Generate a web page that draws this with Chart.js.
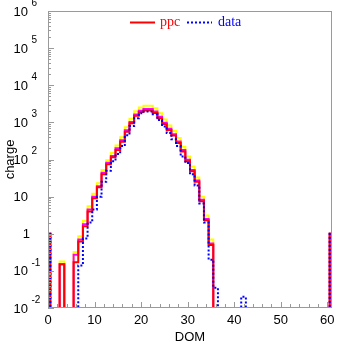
<!DOCTYPE html>
<html>
<head>
<meta charset="utf-8">
<script src="https://cdn.jsdelivr.net/npm/chart.js@4.4.0/dist/chart.umd.min.js"></script>
<style>
  body { margin: 0; background: #fff; }
  canvas { display: block; }
</style>
</head>
<body>
<canvas id="grafico" width="337" height="344"></canvas>
<script>
// valores por DOM (bin 0 .. 61)
const ppc = [1, 0, 0, 0.15, 0, 0, 0.17, 0.62, 1.6, 4, 9, 18, 40, 75, 115, 180, 300, 560, 950, 1500,
  1900, 2100, 2100, 1800, 1300, 900, 620, 440, 280, 165, 90, 48, 25, 7.5, 2.3, 0.5,
  0, 0, 0, 0, 0, 0, 0, 0, 0, 0, 0, 0, 0, 0, 0, 0, 0, 0, 0, 0, 0, 0, 0, 0, 0, 1];
const dados = [1, 0, 0, 0, 0, 0, 0, 0.14, 0.75, 2.0, 4.5, 10, 25, 50, 90, 140, 230, 450, 800, 1300,
  1750, 1950, 1950, 1650, 1150, 780, 520, 350, 230, 120, 80, 40, 20, 6.5, 2, 0.2,
  0.035, 0, 0, 0, 0, 0, 0.02, 0, 0, 0, 0, 0, 0, 0, 0, 0, 0, 0, 0, 0, 0, 0, 0, 0, 0, 1];
const faixaAmarela = [1, 0, 0, 0.18, 0, 0, 0.32, 0.85, 2.2, 5.5, 12, 23, 52, 96, 150, 240, 400, 740, 1250, 2000,
  2500, 2800, 2800, 2400, 1750, 1200, 830, 590, 380, 220, 120, 65, 33, 10, 3.1, 0.7,
  0, 0, 0, 0, 0, 0, 0, 0, 0, 0, 0, 0, 0, 0, 0, 0, 0, 0, 0, 0, 0, 0, 0, 0, 0, 1];
const faixaMagenta = [1, 0, 0, 0.15, 0, 0, 0.27, 0.7, 1.8, 4.5, 10, 19, 44, 82, 125, 200, 330, 610, 1030, 1630,
  2060, 2280, 2280, 1950, 1410, 980, 670, 480, 305, 180, 98, 52, 27, 8.2, 2.5, 0.55,
  0, 0, 0, 0, 0, 0, 0, 0, 0, 0, 0, 0, 0, 0, 0, 0, 0, 0, 0, 0, 0, 0, 0, 0, 0, 1];

const ticksX = [0, 10, 20, 30, 40, 50, 60];
const decadasY = [-2, -1, 0, 1, 2, 3, 4, 5, 6];

// bins vazios ficam abaixo do eixo (log nao aceita zero)
const PISO = 1e-4;

function degraus(valores) {
  const pts = valores.map((v, i) => ({ x: i - 0.5, y: v > 0 ? v : PISO }));
  const ult = valores[valores.length - 1];
  pts.push({ x: valores.length - 0.5, y: ult > 0 ? ult : PISO });
  return pts;
}

function serie(nome, valores, cor, ordem, tracejado) {
  return {
    label: nome,
    data: degraus(valores),
    borderColor: cor,
    borderWidth: 2,
    borderDash: tracejado || [],
    stepped: true,
    pointRadius: 0,
    fill: false,
    clip: 0,
    order: ordem
  };
}

const eixos = {
  id: 'eixos',
  afterDatasetsDraw(chart) {
    const { ctx, chartArea: a, scales: { x, y } } = chart;
    ctx.save();
    ctx.strokeStyle = '#9a9a9a';
    ctx.lineWidth = 1;
    ctx.strokeRect(a.left + 0.5, a.top + 0.5, a.right - a.left - 1, a.bottom - a.top - 1);
    ctx.beginPath();
    decadasY.forEach(n => {
      for (let k = 1; k <= 9; k++) {
        if (n === 6 && k > 1) break;
        const py = Math.round(y.getPixelForValue(k * Math.pow(10, n))) + 0.5;
        const len = k === 1 ? 6 : 3;
        ctx.moveTo(a.left, py);
        ctx.lineTo(a.left + len, py);
      }
    });
    for (let v = 0; v <= 60; v += 2) {
      const px = Math.round(x.getPixelForValue(v)) + 0.5;
      const len = v % 10 === 0 ? 6 : 4;
      ctx.moveTo(px, a.bottom);
      ctx.lineTo(px, a.bottom - len);
    }
    ctx.stroke();

    // rotulos do eixo y
    ctx.fillStyle = '#000';
    ctx.textBaseline = 'middle';
    decadasY.forEach(n => {
      const py = y.getPixelForValue(Math.pow(10, n));
      ctx.font = '13px "Liberation Sans", Arial, sans-serif';
      ctx.textAlign = 'right';
      if (n === 0) {
        ctx.fillText('1', 30, py + 1);
        return;
      }
      ctx.fillText('10', 28, py + 1);
      if (n !== 1) {
        ctx.font = '10px "Liberation Sans", Arial, sans-serif';
        ctx.textAlign = 'left';
        ctx.fillText(String(n), 31.5, py - 8);
      }
    });

    // rotulos do eixo x
    ctx.font = '13px "Liberation Sans", Arial, sans-serif';
    ctx.textAlign = 'center';
    ticksX.forEach(v => ctx.fillText(String(v), x.getPixelForValue(v), a.bottom + 12));
    ctx.fillText('DOM', (a.left + a.right) / 2, 337);

    ctx.save();
    ctx.translate(10, (a.top + a.bottom) / 2);
    ctx.rotate(-Math.PI / 2);
    ctx.fillText('charge', 0, 0);
    ctx.restore();

    // legenda
    ctx.lineWidth = 2;
    ctx.strokeStyle = '#ff0000';
    ctx.beginPath();
    ctx.moveTo(130, 22.5);
    ctx.lineTo(155, 22.5);
    ctx.stroke();
    ctx.strokeStyle = '#0000ff';
    ctx.setLineDash([2, 2]);
    ctx.beginPath();
    ctx.moveTo(187, 22.5);
    ctx.lineTo(212, 22.5);
    ctx.stroke();
    ctx.setLineDash([]);
    ctx.font = '14px "Liberation Serif", "Times New Roman", serif';
    ctx.textAlign = 'left';
    ctx.textBaseline = 'alphabetic';
    ctx.fillStyle = '#ff0000';
    ctx.fillText('ppc', 160, 26);
    ctx.fillStyle = '#0000ff';
    ctx.fillText('data', 218, 26);
    ctx.restore();
  }
};

new Chart(document.getElementById('grafico'), {
  type: 'line',
  data: {
    datasets: [
      serie('data', dados, '#0000ff', 1, [2, 2]),
      serie('ppc', ppc, '#ff0000', 2),
      serie('magenta', faixaMagenta, '#ff00ff', 3),
      serie('amarelo', faixaAmarela, '#ffff00', 4)
    ]
  },
  options: {
    responsive: false,
    animation: false,
    events: [],
    layout: { padding: { left: 48, right: 5, top: 11, bottom: 36 } },
    scales: {
      x: { type: 'linear', min: 0, max: 61, display: false },
      y: { type: 'logarithmic', min: 0.01, max: 1e6, display: false }
    },
    plugins: { legend: { display: false }, tooltip: { enabled: false } }
  },
  plugins: [eixos]
});
</script>
</body>
</html>
